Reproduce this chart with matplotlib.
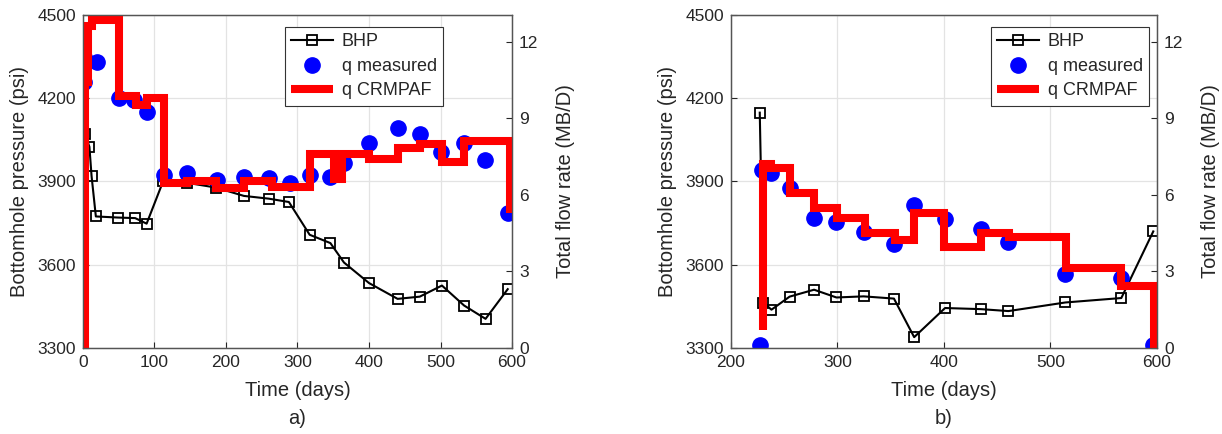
import matplotlib.pyplot as plt

plt.rcParams['font.family'] = ['Liberation Sans', 'DejaVu Sans']

# ---- panel a) ----
a_bhp_t = [3, 9, 12, 18, 49, 73, 89, 112, 146, 186, 225, 260, 288, 317, 346, 365, 400, 440, 471, 502, 533, 563, 594]
a_bhp_p = [4070, 4025, 3920, 3774, 3770, 3768, 3748, 3900, 3895, 3878, 3848, 3838, 3826, 3708, 3678, 3608, 3534, 3477, 3485, 3525, 3453, 3405, 3512]

a_qm_t = [1, 2, 20, 50, 71, 89, 113, 146, 188, 225, 260, 289, 317, 346, 365, 400, 440, 471, 501, 533, 562, 594]
a_qm_q = [10.4, 11.4, 11.2, 9.8, 9.7, 9.25, 6.77, 6.86, 6.58, 6.68, 6.64, 6.45, 6.77, 6.68, 7.25, 8.04, 8.6, 8.38, 7.68, 8.04, 7.38, 5.27]

a_qc_t = [3, 3, 7, 12, 50, 74, 90, 113, 146, 186, 225, 265, 318, 351, 362, 400, 440, 471, 502, 533, 597]
a_qc_q = [0, 10.4, 12.6, 12.85, 9.85, 9.5, 9.8, 6.45, 6.55, 6.25, 6.55, 6.3, 7.6, 6.6, 7.6, 7.4, 7.85, 8.0, 7.3, 8.1, 5.3]

# ---- panel b) ----
b_bhp_t = [227, 230.5, 238, 255, 278, 299, 324.5, 353, 372, 401, 434.5, 460.5, 514, 566.5, 596.5]
b_bhp_p = [4148, 3463, 3438, 3485, 3510, 3482, 3486, 3478, 3339, 3444, 3440, 3433, 3464, 3480, 3720]

b_qm_t = [227, 229, 238, 255, 278, 299, 324.5, 353, 372, 401, 434.5, 460.5, 514, 566.5, 596.5]
b_qm_q = [0.12, 6.97, 6.86, 6.25, 5.1, 4.94, 4.56, 4.07, 5.6, 5.04, 4.65, 4.16, 2.89, 2.73, 0.12]

b_qc_t = [230.5, 230.5, 238, 255, 278, 300, 325.5, 354, 371.5, 400, 435, 461, 514.5, 566.5, 597]
b_qc_q = [0.7, 7.2, 7.05, 6.05, 5.5, 5.08, 4.5, 4.24, 5.28, 3.96, 4.51, 4.34, 3.12, 2.41, 0]

fig = plt.figure(figsize=(12.22, 4.34), dpi=100)
axcol = '#262626'


def panel(rect, xlim, xticks, bhp_t, bhp_p, qm_t, qm_q, qc_t, qc_q, leg_x, tag):
    ax = fig.add_axes(rect)
    ax.plot(bhp_t, bhp_p, color='k', lw=1.5, marker='s', ms=7, mfc='none',
            mec='k', mew=1.3, label='BHP')
    ax.set_xlim(xlim)
    ax.set_ylim(3300, 4500)
    ax.set_xticks(xticks)
    ax.set_yticks([3300, 3600, 3900, 4200, 4500])
    ax.grid(True, color='#e3e3e3', lw=0.9)
    ax.set_axisbelow(True)
    ax.set_xlabel('Time (days)', fontsize=14.5, color=axcol, labelpad=8)
    ax.set_ylabel('Bottomhole pressure (psi)', fontsize=14.5, color=axcol, labelpad=6)
    ax.tick_params(direction='in', length=4, labelsize=12.5, colors=axcol, pad=5)

    ax2 = ax.twinx()
    ax2.plot(qm_t, qm_q, 'o', color='#0000ff', ms=11, ls='none', label='q measured')
    ax2.plot(qc_t, qc_q, color='#ff0000', lw=5.8, drawstyle='steps-post',
             solid_joinstyle='miter', solid_capstyle='butt', label='q CRMPAF')
    ax2.set_ylim(0, 13.04)
    ax2.set_yticks([0, 3, 6, 9, 12])
    ax2.set_ylabel('Total flow rate (MB/D)', fontsize=14.5, color=axcol, labelpad=13)
    ax2.tick_params(direction='in', length=4, labelsize=12.5, colors=axcol, pad=5)
    for a in (ax, ax2):
        for s in a.spines.values():
            s.set_color('#555555')
            s.set_linewidth(0.9)

    h1, l1 = ax.get_legend_handles_labels()
    h2, l2 = ax2.get_legend_handles_labels()
    leg = ax2.legend(h1 + h2, l1 + l2, loc='upper left', bbox_to_anchor=(leg_x, 0.964),
                     borderaxespad=0, fontsize=13, fancybox=False, framealpha=1,
                     edgecolor='#333333', handlelength=2.3, labelspacing=0.42,
                     handletextpad=0.5, borderpad=0.35)
    leg.get_frame().set_linewidth(0.8)
    for t in leg.get_texts():
        t.set_color(axcol)

    fig.text(rect[0] + rect[2] / 2, 0.035, tag, ha='center', va='center',
             fontsize=14.5, color=axcol)


panel([0.0679, 0.1982, 0.3511, 0.7673], (0, 600), range(0, 601, 100),
      a_bhp_t, a_bhp_p, a_qm_t, a_qm_q, a_qc_t, a_qc_q, 0.471, 'a)')
panel([0.5982, 0.1982, 0.3486, 0.7673], (200, 600), range(200, 601, 100),
      b_bhp_t, b_bhp_p, b_qm_t, b_qm_q, b_qc_t, b_qc_q, 0.610, 'b)')

fig.savefig('out.png', dpi=100)
